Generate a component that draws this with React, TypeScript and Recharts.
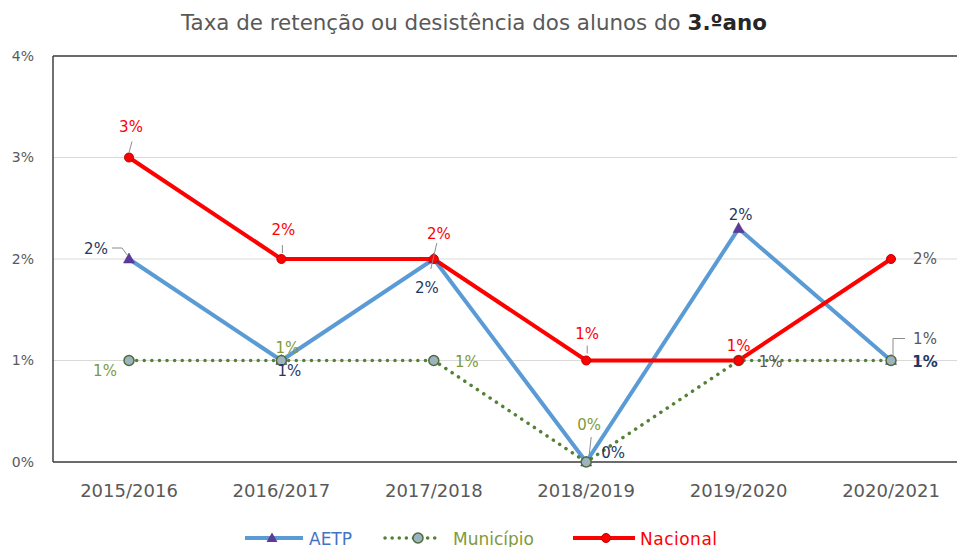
import React from 'react';
import { LineChart, Line, XAxis, YAxis, CartesianGrid, Legend, LabelList } from 'recharts';

const categories = ['2015/2016', '2016/2017', '2017/2018', '2018/2019', '2019/2020', '2020/2021'];
const aetpValues = [2, 1, 2, 0, 2.3, 1];
const municipioValues = [1, 1, 1, 0, 1, 1];
const nacionalValues = [3, 2, 2, 1, 1, 2];
const yTicks = [0, 1, 2, 3, 4];
const seriesNames = ['AETP', 'Município', 'Nacional'];
const titleText = 'Taxa de retenção ou desistência dos alunos do ';
const titleBold = '3.ºano';

const data = categories.map((c, i) => ({
  cat: c,
  aetp: aetpValues[i],
  municipio: municipioValues[i],
  nacional: nacionalValues[i],
}));

const FONT = '"DejaVu Sans", "Open Sans", sans-serif';
const GRAY = '#595959';
const BORDER = '#404040';

type LabelStyle = { dx: number; dy: number; color: string; bold?: boolean; leader?: number[] };

// label offsets relative to the point (styling only)
const nacionalLabelStyle: LabelStyle[] = [
  { dx: 2, dy: -31, color: '#FF0000', leader: [3, -16, 0, -5] },
  { dx: 2, dy: -29, color: '#FF0000', leader: [1, -14, 1, -6] },
  { dx: 5, dy: -25, color: '#FF0000', leader: [3, -16, -3, 10] },
  { dx: 1, dy: -27, color: '#FF0000', leader: [1, -15, 1, -7] },
  { dx: 0, dy: -15, color: '#FF0000' },
  { dx: 34, dy: 0, color: GRAY },
];
const aetpLabelStyle: LabelStyle[] = [
  { dx: -33, dy: -10, color: '#1F3864', leader: [-17, -11, -7, -11, -1, -3] },
  { dx: 8, dy: 10, color: '#1F3864' },
  { dx: -7, dy: 29, color: '#1F3864' },
  { dx: 27, dy: -9, color: '#1F3864' },
  { dx: 2, dy: -14, color: '#1F3864' },
  { dx: 34, dy: 1, color: '#1F3864', bold: true },
];
const municipioLabelStyle: LabelStyle[] = [
  { dx: -24, dy: 10, color: '#7F9A3A' },
  { dx: 6, dy: -13, color: '#7F9A3A' },
  { dx: 33, dy: 1, color: '#7F9A3A' },
  { dx: 3, dy: -37, color: '#7F9A3A', leader: [5, -25, 3, -7] },
  { dx: 32, dy: 1, color: GRAY },
  { dx: 34, dy: -22, color: GRAY, leader: [14, -22, 2, -22, 2, -4] },
];

const makeLabel = (styles: LabelStyle[]) => (props: any) => {
  const idx = props.index;
  const st = styles[idx];
  if (!st) return null;
  const x = props.viewBox?.x ?? props.x;
  const y = props.viewBox?.y ?? props.y;
  const v = props.value;
  const txt = `${Math.round(Number(v))}%`;
  let leader = null;
  if (st.leader) {
    const pts: string[] = [];
    for (let k = 0; k < st.leader.length; k += 2) pts.push(`${x + st.leader[k]},${y + st.leader[k + 1]}`);
    leader = <polyline points={pts.join(' ')} fill="none" stroke="#8c8c8c" strokeWidth={1} />;
  }
  return (
    <g>
      {leader}
      <text
        x={x + st.dx}
        y={y + st.dy}
        dy="0.35em"
        textAnchor="middle"
        fill={st.color}
        fontFamily={FONT}
        fontSize={15}
        fontWeight={st.bold ? 700 : 400}
      >
        {txt}
      </text>
    </g>
  );
};

const TriangleDot = (props: any) => {
  const { cx, cy } = props;
  if (cx == null || cy == null) return null;
  return <polygon points={`${cx},${cy - 6} ${cx + 5.5},${cy + 4} ${cx - 5.5},${cy + 4}`} fill="#5B3A9A" stroke="#4a2f85" strokeWidth={0.5} />;
};

const renderLegend = () => (
  <svg width={957} height={20} style={{ display: 'block', overflow: 'visible' }}>
    <line x1={245} x2={303} y1={10} y2={10} stroke="#5B9BD5" strokeWidth={4} />
    <polygon points="272,4.5 277.5,14 266.5,14" fill="#5B3A9A" />
    <text x={309} y={16.5} fill="#4472C4" fontFamily={FONT} fontSize={17}>{seriesNames[0]}</text>
    <line x1={385} x2={440} y1={10} y2={10} stroke="#548235" strokeWidth={3.5} strokeDasharray="0.1 7" strokeLinecap="round" />
    <circle cx={418} cy={10} r={5} fill="#9DB3C0" stroke="#4E6B3A" strokeWidth={1.5} />
    <text x={453} y={16.5} fill="#7F9A3A" fontFamily={FONT} fontSize={17}>{seriesNames[1]}</text>
    <line x1={573} x2={635} y1={10} y2={10} stroke="#FF0000" strokeWidth={4} />
    <circle cx={606} cy={10} r={4.5} fill="#FF0000" stroke="#C00000" strokeWidth={1} />
    <text x={640} y={16.5} fill="#FF0000" fontFamily={FONT} fontSize={17} letterSpacing={0.5}>{seriesNames[2]}</text>
  </svg>
);

export default function App() {
  return (
    <div style={{ position: 'absolute', left: 0, top: 0, width: 957, height: 547, overflow: 'hidden', background: '#fff' }}>
      <div
        style={{
          position: 'absolute',
          left: 0,
          top: 10,
          width: 948,
          textAlign: 'center',
          fontFamily: FONT,
          fontSize: 21.4,
          color: GRAY,
          lineHeight: '26px',
          whiteSpace: 'nowrap',
        }}
      >
        {titleText}
        <b style={{ color: '#262626' }}>{titleBold}</b>
      </div>
      <div style={{ position: 'absolute', left: 0, top: 0 }}>
        <LineChart width={1000} height={548} data={data} margin={{ top: 55, right: 32, left: 0, bottom: 0 }}>
          <CartesianGrid vertical={false} stroke="#D9D9D9" strokeWidth={1} />
          <XAxis
            dataKey="cat"
            padding={{ left: 76, right: 76 }}
            tickLine={false}
            axisLine={{ stroke: BORDER, strokeWidth: 1.5 }}
            tickSize={0}
            tickMargin={22}
            height={66}
            tick={{ fill: GRAY, fontSize: 18, fontFamily: FONT }}
            interval={0}
          />
          <XAxis
            xAxisId="top"
            orientation="top"
            dataKey="cat"
            height={1}
            tick={false}
            tickLine={false}
            axisLine={{ stroke: BORDER, strokeWidth: 1.5 }}
          />
          <YAxis
            domain={[0, 4]}
            ticks={yTicks}
            width={53}
            tickLine={false}
            axisLine={{ stroke: BORDER, strokeWidth: 1.5 }}
            tickSize={0}
            tickMargin={19}
            tickFormatter={(v: number) => `${v}%`}
            tick={{ fill: GRAY, fontSize: 14, fontFamily: FONT }}
          />
          <YAxis
            yAxisId="right"
            orientation="right"
            domain={[0, 4]}
            width={1}
            tick={false}
            tickLine={false}
            axisLine={{ stroke: BORDER, strokeWidth: 1.5 }}
          />
          <Legend content={renderLegend} verticalAlign="bottom" wrapperStyle={{ left: 0, top: 528, width: 957, height: 20 }} />
          <Line
            dataKey="aetp"
            name={seriesNames[0]}
            stroke="#5B9BD5"
            strokeWidth={4}
            dot={<TriangleDot />}
            activeDot={false}
            isAnimationActive={false}
          >
            <LabelList dataKey="aetp" content={makeLabel(aetpLabelStyle)} />
          </Line>
          <Line
            dataKey="municipio"
            name={seriesNames[1]}
            stroke="#548235"
            strokeWidth={3.5}
            strokeDasharray="0.1 7.5"
            strokeLinecap="round"
            dot={{ r: 5, fill: '#9DB3C0', stroke: '#4E6B3A', strokeWidth: 1.5, strokeDasharray: '' }}
            activeDot={false}
            isAnimationActive={false}
          >
            <LabelList dataKey="municipio" content={makeLabel(municipioLabelStyle)} />
          </Line>
          <Line
            dataKey="nacional"
            name={seriesNames[2]}
            stroke="#FF0000"
            strokeWidth={4}
            dot={{ r: 4.5, fill: '#FF0000', stroke: '#C00000', strokeWidth: 1 }}
            activeDot={false}
            isAnimationActive={false}
          >
            <LabelList dataKey="nacional" content={makeLabel(nacionalLabelStyle)} />
          </Line>
        </LineChart>
      </div>
    </div>
  );
}
